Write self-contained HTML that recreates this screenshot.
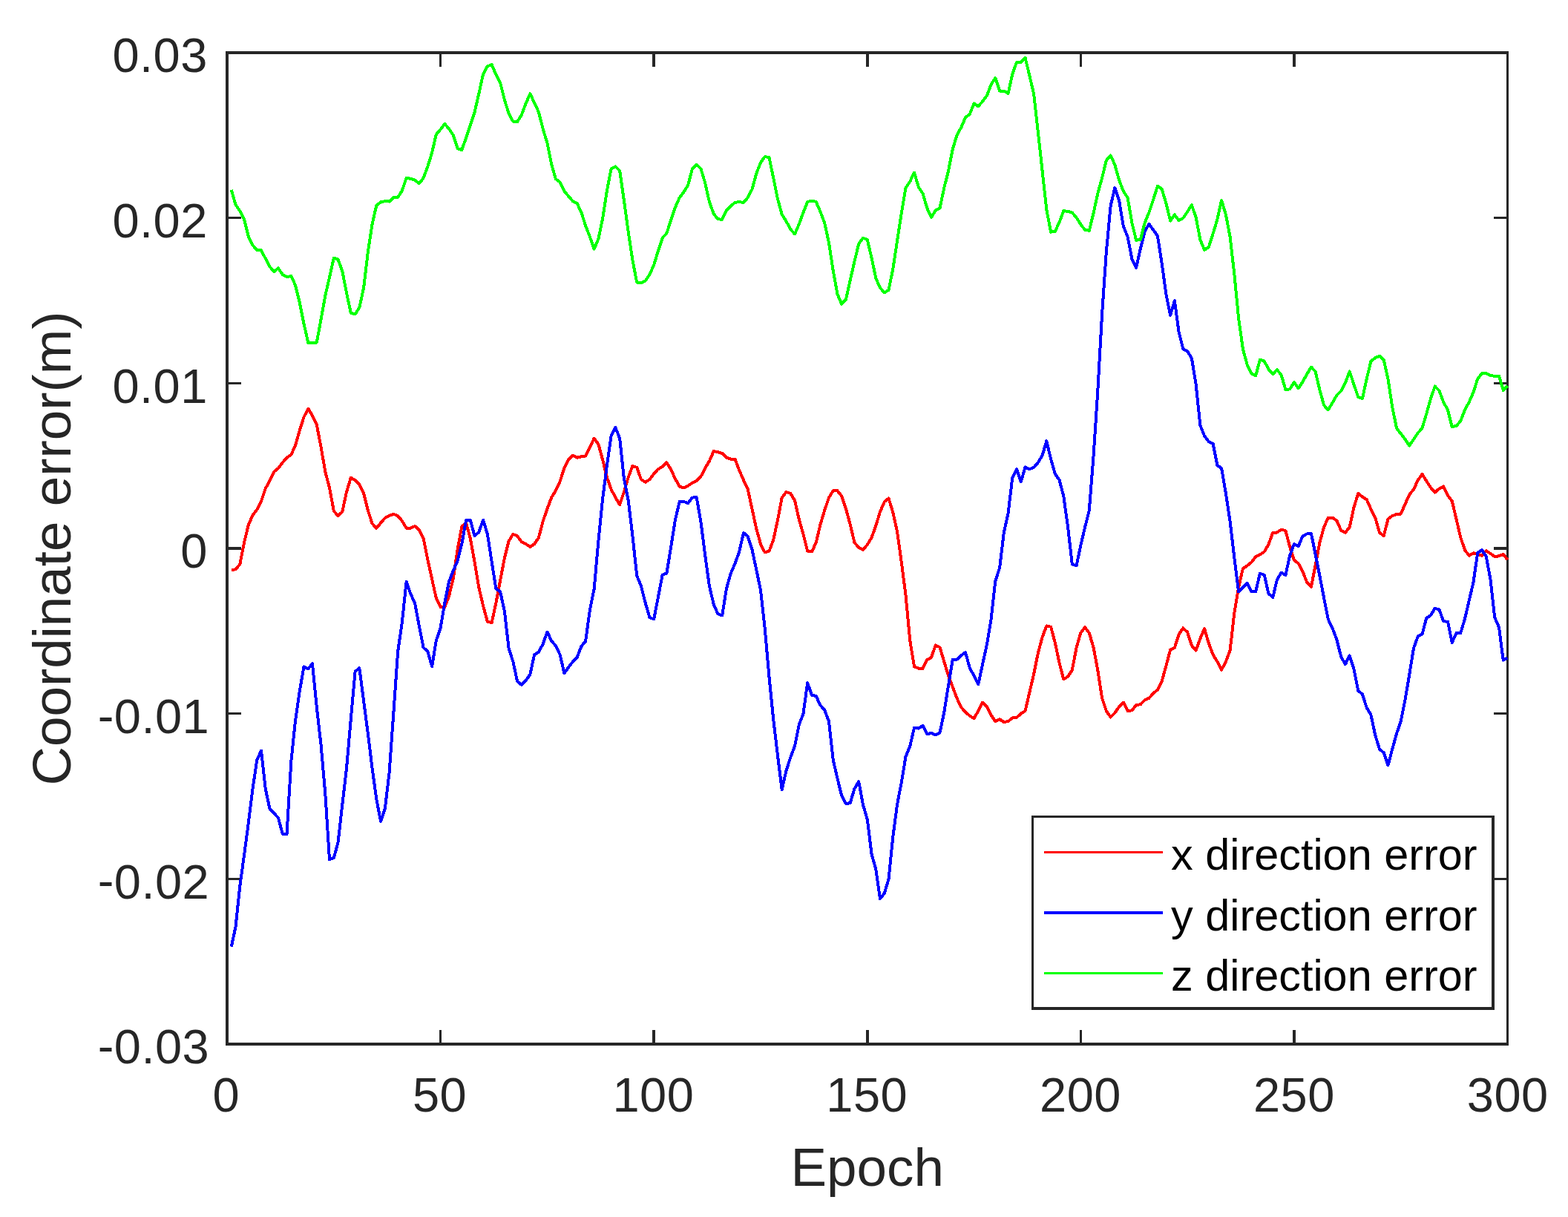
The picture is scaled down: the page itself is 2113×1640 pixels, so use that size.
<!DOCTYPE html>
<html><head><meta charset="utf-8"><title>Coordinate error</title>
<style>
html,body{margin:0;padding:0;background:#fff;}
body{width:2113px;height:1640px;overflow:hidden;}
svg{display:block;}
text{font-family:"Liberation Sans",sans-serif;}
.tk{font-size:65px;letter-spacing:0.45px;fill:#262626;}
.lb{font-size:72.8px;fill:#262626;}
.lg{font-size:59.4px;fill:#000;}
</style></head><body>
<svg width="2113" height="1640" viewBox="0 0 2113 1640">
<rect x="0" y="0" width="2113" height="1640" fill="#ffffff"/>
<g stroke="#262626" stroke-width="3.5" fill="none" shape-rendering="crispEdges" stroke-linecap="butt">
<rect x="306.0" y="71.0" width="1725.5" height="1336.0"/>
<line x1="593.58" y1="1407.0" x2="593.58" y2="1388.0"/><line x1="593.58" y1="71.0" x2="593.58" y2="90.0"/>
<line x1="306.0" y1="293.67" x2="325.0" y2="293.67"/><line x1="2031.5" y1="293.67" x2="2012.5" y2="293.67"/>
<line x1="881.17" y1="1407.0" x2="881.17" y2="1388.0"/><line x1="881.17" y1="71.0" x2="881.17" y2="90.0"/>
<line x1="306.0" y1="516.33" x2="325.0" y2="516.33"/><line x1="2031.5" y1="516.33" x2="2012.5" y2="516.33"/>
<line x1="1168.75" y1="1407.0" x2="1168.75" y2="1388.0"/><line x1="1168.75" y1="71.0" x2="1168.75" y2="90.0"/>
<line x1="306.0" y1="739.00" x2="325.0" y2="739.00"/><line x1="2031.5" y1="739.00" x2="2012.5" y2="739.00"/>
<line x1="1456.33" y1="1407.0" x2="1456.33" y2="1388.0"/><line x1="1456.33" y1="71.0" x2="1456.33" y2="90.0"/>
<line x1="306.0" y1="961.67" x2="325.0" y2="961.67"/><line x1="2031.5" y1="961.67" x2="2012.5" y2="961.67"/>
<line x1="1743.92" y1="1407.0" x2="1743.92" y2="1388.0"/><line x1="1743.92" y1="71.0" x2="1743.92" y2="90.0"/>
<line x1="306.0" y1="1184.33" x2="325.0" y2="1184.33"/><line x1="2031.5" y1="1184.33" x2="2012.5" y2="1184.33"/>
</g>
<g fill="none" stroke-width="4.0" stroke-linejoin="round" stroke-linecap="butt" shape-rendering="crispEdges">
<polyline stroke="#ff0000" points="311.8,768.5 317.5,767.2 323.3,760.5 329.0,731.2 334.8,707.5 340.5,694.3 346.3,686.7 352.0,675.4 357.8,658.3 363.5,647.9 369.3,635.6 375.0,630.9 380.8,623.3 386.5,616.7 392.3,612.9 398.0,600.3 403.8,580.0 409.5,562.0 415.3,550.6 421.0,560.1 426.8,572.4 432.5,602.2 438.3,635.6 444.0,657.4 449.8,688.6 455.5,695.2 461.3,689.6 467.0,663.0 472.8,643.7 478.6,647.0 484.3,652.6 490.1,664.9 495.8,687.7 501.6,705.6 507.3,711.9 513.1,704.7 518.8,698.1 524.6,694.9 530.3,692.8 536.1,695.2 541.8,701.9 547.6,711.7 553.3,711.7 559.1,709.0 564.8,714.2 570.6,725.5 576.3,753.9 582.1,780.4 587.8,806.0 593.6,817.9 599.3,818.3 605.1,803.1 610.8,779.5 616.6,740.7 622.3,709.4 628.1,704.7 633.8,725.5 639.6,757.7 645.3,791.8 651.1,816.4 656.9,837.8 662.6,839.1 668.4,812.6 674.1,782.3 679.9,752.0 685.6,729.3 691.4,719.8 697.1,722.2 702.9,730.3 708.6,733.1 714.4,736.9 720.1,733.1 725.9,724.6 731.6,702.8 737.4,685.8 743.1,670.6 748.9,661.2 754.6,648.8 760.4,630.9 766.1,619.5 771.9,613.8 777.6,616.7 783.4,615.3 789.1,614.4 794.9,602.5 800.6,590.7 806.4,598.7 812.1,619.5 817.9,643.2 823.6,659.3 829.4,670.6 835.2,680.1 840.9,663.0 846.7,643.2 852.4,628.0 858.2,629.9 863.9,646.0 869.7,649.8 875.4,646.0 881.2,638.4 886.9,632.2 892.7,629.0 898.4,623.3 904.2,632.8 909.9,645.1 915.7,655.5 921.4,657.4 927.2,654.5 932.9,650.7 938.7,647.9 944.4,642.2 950.2,630.9 955.9,621.4 961.7,608.1 967.4,609.1 973.2,611.0 978.9,616.7 984.7,618.6 990.4,618.6 996.2,633.7 1002.0,647.0 1007.7,659.3 1013.5,685.8 1019.2,712.3 1025.0,733.1 1030.7,744.4 1036.5,742.6 1042.2,727.4 1048.0,700.9 1053.7,670.6 1059.5,663.0 1065.2,664.9 1071.0,674.4 1076.7,699.5 1082.5,719.8 1088.2,742.6 1094.0,743.5 1099.7,731.2 1105.5,706.6 1111.2,687.7 1117.0,670.6 1122.7,661.2 1128.5,661.2 1134.2,668.7 1140.0,685.8 1145.7,706.6 1151.5,731.2 1157.2,737.8 1163.0,740.7 1168.8,734.0 1174.5,724.6 1180.3,708.5 1186.0,689.6 1191.8,676.3 1197.5,671.6 1203.3,690.5 1209.0,716.1 1214.8,757.7 1220.5,802.0 1226.3,863.3 1232.0,898.3 1237.8,900.6 1243.5,900.8 1249.3,889.2 1255.0,886.0 1260.8,869.5 1266.5,872.2 1272.3,891.7 1278.0,910.6 1283.8,925.8 1289.5,940.9 1295.3,953.2 1301.0,959.8 1306.8,964.6 1312.5,968.4 1318.3,957.9 1324.0,946.6 1329.8,952.3 1335.5,963.6 1341.3,972.1 1347.1,969.3 1352.8,973.1 1358.6,972.1 1364.3,967.4 1370.1,966.8 1375.8,961.7 1381.6,957.9 1387.3,933.3 1393.1,908.7 1398.8,880.3 1404.6,858.6 1410.3,843.4 1416.1,844.7 1421.8,866.1 1427.6,893.6 1433.3,915.4 1439.1,911.6 1444.8,903.0 1450.6,872.8 1456.3,852.9 1462.1,845.3 1467.8,852.9 1473.6,872.8 1479.3,903.0 1485.1,940.9 1490.8,957.9 1496.6,966.5 1502.3,960.8 1508.1,952.3 1513.9,946.6 1519.6,957.9 1525.4,957.4 1531.1,949.8 1536.9,949.4 1542.6,943.2 1548.4,940.9 1554.1,934.3 1559.9,929.6 1565.6,918.2 1571.4,897.4 1577.1,875.6 1582.9,872.8 1588.6,854.8 1594.4,846.3 1600.1,851.9 1605.9,869.9 1611.6,876.5 1617.4,860.5 1623.1,847.2 1628.9,867.1 1634.6,882.2 1640.4,891.7 1646.1,902.7 1651.9,891.7 1657.6,876.5 1663.4,825.6 1669.1,791.6 1674.9,766.2 1680.6,762.4 1686.4,757.7 1692.2,750.1 1697.9,747.3 1703.7,743.5 1709.4,733.8 1715.2,717.9 1720.9,717.5 1726.7,713.6 1732.4,715.2 1738.2,737.1 1743.9,754.8 1749.7,759.4 1755.4,769.8 1761.2,784.9 1766.9,790.8 1772.7,761.7 1778.4,731.0 1784.2,710.1 1789.9,697.6 1795.7,697.6 1801.4,701.6 1807.2,714.9 1812.9,717.7 1818.7,710.4 1824.4,684.1 1830.2,664.9 1835.9,669.6 1841.7,673.2 1847.4,686.0 1853.2,697.6 1859.0,717.5 1864.7,722.2 1870.5,699.5 1876.2,695.2 1882.0,692.9 1887.7,692.5 1893.5,679.4 1899.2,666.6 1905.0,659.5 1910.7,647.2 1916.5,638.9 1922.2,648.1 1928.0,657.1 1933.7,663.5 1939.5,658.5 1945.2,655.5 1951.0,667.5 1956.7,675.1 1962.5,699.5 1968.2,724.1 1974.0,741.2 1979.7,748.7 1985.5,745.3 1991.2,746.5 1997.0,748.7 2002.7,742.1 2008.5,745.9 2014.2,750.2 2020.0,749.3 2025.7,746.8 2031.5,754.4"/>
<polyline stroke="#0000ff" points="311.8,1275.6 317.5,1249.1 323.3,1194.2 329.0,1152.5 334.8,1109.0 340.5,1063.3 346.3,1024.0 352.0,1011.7 357.8,1063.3 363.5,1090.0 369.3,1095.7 375.0,1102.3 380.8,1123.7 386.5,1124.1 392.3,1026.4 398.0,971.2 403.8,931.4 409.5,898.3 415.3,901.2 421.0,894.5 426.8,953.2 432.5,1003.2 438.3,1069.4 444.0,1158.2 449.8,1156.3 455.5,1135.5 461.3,1084.4 467.0,1035.4 472.8,969.3 478.6,904.9 484.3,900.2 490.1,944.7 495.8,988.2 501.6,1035.4 507.3,1077.0 513.1,1107.1 518.8,1090.0 524.6,1041.0 530.3,961.7 536.1,878.4 541.8,838.9 547.6,784.0 553.3,800.1 559.1,812.9 564.8,843.2 570.6,872.8 576.3,877.5 582.1,898.3 587.8,863.3 593.6,846.0 599.3,812.4 605.1,783.5 610.8,769.1 616.6,755.8 622.3,733.1 628.1,700.9 633.8,700.9 639.6,722.3 645.3,717.0 651.1,700.9 656.9,719.8 662.6,756.8 668.4,793.5 674.1,797.2 679.9,824.0 685.6,873.7 691.4,891.7 697.1,918.2 702.9,922.9 708.6,917.2 714.4,908.7 720.1,882.2 725.9,878.8 731.6,868.0 737.4,851.6 743.1,863.3 748.9,870.5 754.6,882.2 760.4,907.2 766.1,899.3 771.9,891.7 777.6,886.0 783.4,870.9 789.1,864.2 794.9,821.9 800.6,793.9 806.4,729.3 812.1,672.5 817.9,627.1 823.6,587.3 829.4,576.0 835.2,591.1 840.9,645.1 846.7,674.4 852.4,721.7 858.2,775.7 863.9,789.7 869.7,812.4 875.4,832.3 881.2,834.2 886.9,804.8 892.7,774.7 898.4,772.5 904.2,736.9 909.9,700.9 915.7,675.9 921.4,675.9 927.2,678.2 932.9,670.6 938.7,670.2 944.4,702.8 950.2,748.2 955.9,789.7 961.7,814.3 967.4,827.3 973.2,829.4 978.9,793.5 984.7,772.8 990.4,759.6 996.2,743.5 1002.0,717.9 1007.7,722.7 1013.5,740.7 1019.2,767.2 1025.0,795.4 1030.7,846.5 1036.5,912.5 1042.2,969.3 1048.0,1018.5 1053.7,1064.0 1059.5,1038.4 1065.2,1020.9 1071.0,1005.3 1076.7,976.9 1082.5,961.7 1088.2,920.1 1094.0,936.7 1099.7,938.1 1105.5,950.4 1111.2,957.0 1117.0,972.1 1122.7,1024.0 1128.5,1049.1 1134.2,1072.3 1140.0,1083.2 1145.7,1082.0 1151.5,1062.8 1157.2,1053.1 1163.0,1084.6 1168.8,1104.2 1174.5,1150.6 1180.3,1171.4 1186.0,1211.2 1191.8,1203.6 1197.5,1184.7 1203.3,1127.9 1209.0,1084.4 1214.8,1054.3 1220.5,1019.7 1226.3,1005.3 1232.0,980.7 1237.8,981.6 1243.5,977.8 1249.3,989.2 1255.0,987.9 1260.8,990.5 1266.5,987.3 1272.3,959.8 1278.0,923.9 1283.8,888.8 1289.5,888.8 1295.3,883.2 1301.0,879.0 1306.8,900.2 1312.5,910.6 1318.3,922.0 1324.0,895.5 1329.8,869.0 1335.5,835.1 1341.3,783.0 1347.1,765.3 1352.8,717.9 1358.6,691.4 1364.3,643.7 1370.1,632.4 1375.8,649.4 1381.6,629.4 1387.3,632.2 1393.1,629.9 1398.8,623.3 1404.6,613.8 1410.3,594.2 1416.1,618.6 1421.8,638.4 1427.6,647.0 1433.3,668.7 1439.1,710.4 1444.8,760.5 1450.6,762.4 1456.3,735.0 1462.1,710.4 1467.8,687.7 1473.6,614.0 1479.3,527.2 1485.1,423.0 1490.8,340.0 1496.6,277.7 1502.3,253.1 1508.1,270.1 1513.9,305.1 1519.6,319.1 1525.4,349.0 1531.1,360.8 1536.9,334.8 1542.6,312.0 1548.4,301.9 1554.1,309.7 1559.9,317.9 1565.6,354.2 1571.4,396.5 1577.1,424.9 1582.9,405.1 1588.6,447.7 1594.4,470.4 1600.1,473.2 1605.9,482.7 1611.6,517.7 1617.4,573.3 1623.1,587.5 1628.9,595.1 1634.6,597.9 1640.4,627.1 1646.1,630.9 1651.9,664.9 1657.6,702.8 1663.4,752.0 1669.1,797.5 1674.9,791.8 1680.6,786.1 1686.4,797.1 1692.2,797.1 1697.9,772.8 1703.7,774.7 1709.4,799.6 1715.2,805.3 1720.9,781.1 1726.7,771.7 1732.4,775.0 1738.2,748.5 1743.9,733.1 1749.7,736.2 1755.4,722.5 1761.2,719.4 1766.9,718.7 1772.7,747.5 1778.4,775.9 1784.2,806.3 1789.9,834.7 1795.7,846.7 1801.4,862.2 1807.2,884.9 1812.9,895.3 1818.7,883.5 1824.4,901.6 1830.2,930.7 1835.9,935.5 1841.7,953.7 1847.4,963.2 1853.2,990.6 1859.0,1009.6 1864.7,1014.3 1870.5,1031.3 1876.2,1009.6 1882.0,988.7 1887.7,971.7 1893.5,943.3 1899.2,909.4 1905.0,873.5 1910.7,857.6 1916.5,854.7 1922.2,833.0 1928.0,829.2 1933.7,819.7 1939.5,821.6 1945.2,837.3 1951.0,837.7 1956.7,865.9 1962.5,853.2 1968.2,853.2 1974.0,833.9 1979.7,809.3 1985.5,784.7 1991.2,744.9 1997.0,741.2 2002.7,749.7 2008.5,780.9 2014.2,832.0 2020.0,845.3 2025.7,889.6 2031.5,886.7"/>
<polyline stroke="#00ff00" points="311.8,255.9 317.5,275.8 323.3,284.3 329.0,295.7 334.8,318.7 340.5,330.5 346.3,336.9 352.0,337.3 357.8,348.5 363.5,359.4 369.3,366.0 375.0,361.5 380.8,370.0 386.5,373.3 392.3,371.9 398.0,384.2 403.8,407.9 409.5,436.3 415.3,461.9 421.0,462.2 426.8,461.5 432.5,430.6 438.3,398.4 444.0,373.8 449.8,347.7 455.5,349.6 461.3,365.3 467.0,394.7 472.8,421.7 478.6,423.4 484.3,414.5 490.1,388.0 495.8,339.8 501.6,301.9 507.3,276.8 513.1,272.4 518.8,271.1 524.6,271.6 530.3,266.0 536.1,266.0 541.8,256.9 547.6,239.8 553.3,240.8 559.1,242.7 564.8,247.4 570.6,239.8 576.3,224.7 582.1,205.8 587.8,181.2 593.6,174.5 599.3,167.0 605.1,173.6 610.8,182.1 616.6,200.1 622.3,202.0 628.1,185.9 633.8,168.8 639.6,150.9 645.3,126.3 651.1,99.8 656.9,89.3 662.6,87.1 668.4,100.7 674.1,111.1 679.9,134.8 685.6,152.8 691.4,163.7 697.1,164.3 702.9,154.7 708.6,139.5 714.4,126.3 720.1,138.6 725.9,150.9 731.6,173.6 737.4,192.5 743.1,220.9 748.9,241.2 754.6,245.5 760.4,257.8 766.1,264.4 771.9,271.1 777.6,273.9 783.4,286.2 789.1,304.2 794.9,319.1 800.6,335.7 806.4,322.0 812.1,294.7 817.9,256.9 823.6,227.5 829.4,224.3 835.2,230.4 840.9,270.1 846.7,312.5 852.4,350.4 858.2,380.5 863.9,381.4 869.7,378.6 875.4,370.0 881.2,357.0 886.9,338.1 892.7,320.6 898.4,314.4 904.2,296.6 909.9,279.6 915.7,266.3 921.4,258.8 927.2,249.3 932.9,227.5 938.7,221.9 944.4,227.2 950.2,246.5 955.9,272.0 961.7,288.1 967.4,295.3 973.2,295.7 978.9,283.4 984.7,277.7 990.4,273.0 996.2,272.0 1002.0,273.0 1007.7,266.3 1013.5,255.0 1019.2,234.2 1025.0,219.0 1030.7,211.1 1036.5,212.0 1042.2,239.8 1048.0,268.2 1053.7,289.1 1059.5,298.1 1065.2,308.9 1071.0,315.4 1076.7,302.3 1082.5,286.2 1088.2,272.0 1094.0,270.5 1099.7,272.0 1105.5,285.3 1111.2,300.4 1117.0,327.2 1122.7,364.6 1128.5,396.5 1134.2,409.8 1140.0,403.2 1145.7,377.6 1151.5,352.3 1157.2,328.6 1163.0,320.8 1168.8,322.9 1174.5,347.5 1180.3,374.8 1186.0,388.0 1191.8,394.3 1197.5,390.9 1203.3,362.7 1209.0,324.8 1214.8,287.2 1220.5,253.1 1226.3,244.6 1232.0,232.6 1237.8,252.1 1243.5,260.7 1249.3,280.5 1255.0,292.8 1260.8,283.4 1266.5,280.5 1272.3,253.1 1278.0,230.4 1283.8,201.0 1289.5,182.1 1295.3,171.7 1301.0,158.4 1306.8,153.7 1312.5,139.5 1318.3,143.3 1324.0,136.7 1329.8,129.1 1335.5,114.0 1341.3,105.1 1347.1,122.5 1352.8,122.5 1358.6,125.9 1364.3,99.8 1370.1,83.7 1375.8,83.7 1381.6,78.0 1387.3,101.6 1393.1,126.3 1398.8,177.4 1404.6,230.4 1410.3,282.4 1416.1,312.7 1421.8,311.8 1427.6,299.5 1433.3,284.3 1439.1,284.8 1444.8,286.4 1450.6,293.3 1456.3,302.3 1462.1,309.9 1467.8,310.8 1473.6,287.2 1479.3,260.7 1485.1,239.8 1490.8,216.2 1496.6,209.6 1502.3,221.9 1508.1,242.7 1513.9,257.8 1519.6,266.3 1525.4,300.4 1531.1,323.7 1536.9,322.8 1542.6,300.4 1548.4,286.2 1554.1,269.2 1559.9,250.8 1565.6,254.6 1571.4,273.9 1577.1,297.6 1582.9,289.4 1588.6,297.2 1594.4,293.8 1600.1,285.3 1605.9,276.4 1611.6,292.8 1617.4,323.1 1623.1,336.8 1628.9,332.9 1634.6,314.9 1640.4,295.7 1646.1,270.1 1651.9,289.1 1657.6,319.1 1663.4,370.0 1669.1,428.7 1674.9,470.4 1680.6,491.2 1686.4,503.5 1692.2,506.3 1697.9,484.6 1703.7,486.5 1709.4,497.6 1715.2,504.2 1720.9,498.1 1726.7,505.6 1732.4,525.1 1738.2,524.3 1743.9,515.1 1749.7,523.4 1755.4,514.6 1761.2,504.2 1766.9,494.6 1772.7,500.9 1778.4,525.5 1784.2,546.3 1789.9,552.3 1795.7,542.6 1801.4,532.6 1807.2,526.9 1812.9,516.1 1818.7,500.4 1824.4,517.9 1830.2,535.0 1835.9,537.2 1841.7,510.6 1847.4,487.0 1853.2,482.2 1859.0,479.8 1864.7,485.1 1870.5,510.6 1876.2,548.5 1882.0,576.9 1887.7,584.4 1893.5,592.0 1899.2,600.5 1905.0,592.0 1910.7,583.5 1916.5,576.9 1922.2,557.9 1928.0,537.1 1933.7,520.5 1939.5,526.7 1945.2,541.9 1951.0,552.3 1956.7,575.0 1962.5,574.0 1968.2,567.4 1974.0,552.3 1979.7,541.9 1985.5,528.6 1991.2,510.6 1997.0,503.0 2002.7,503.0 2008.5,505.9 2014.2,506.8 2020.0,506.5 2025.7,525.8 2031.5,519.7"/>
</g>
<text class="tk" x="304.7" y="1498.3" text-anchor="middle">0</text>
<text class="tk" x="592.5" y="1498.3" text-anchor="middle">50</text>
<text class="tk" x="880.4" y="1498.3" text-anchor="middle">100</text>
<text class="tk" x="1168.2" y="1498.3" text-anchor="middle">150</text>
<text class="tk" x="1456.0" y="1498.3" text-anchor="middle">200</text>
<text class="tk" x="1743.9" y="1498.3" text-anchor="middle">250</text>
<text class="tk" x="2031.7" y="1498.3" text-anchor="middle">300</text>
<text class="tk" x="279.8" y="97.4" text-anchor="end">0.03</text>
<text class="tk" x="279.8" y="320.1" text-anchor="end">0.02</text>
<text class="tk" x="279.8" y="542.7" text-anchor="end">0.01</text>
<text class="tk" x="279.8" y="765.4" text-anchor="end">0</text>
<text class="tk" x="282.1" y="988.1" dy="-1.6 1.6" text-anchor="end">-0.01</text>
<text class="tk" x="282.1" y="1210.7" dy="-1.6 1.6" text-anchor="end">-0.02</text>
<text class="tk" x="282.1" y="1433.4" dy="-1.6 1.6" text-anchor="end">-0.03</text>
<text class="lb" x="1168.7" y="1598" text-anchor="middle">Epoch</text>
<text class="lb" transform="translate(95,739) rotate(-90)" text-anchor="middle">Coordinate error(m)</text>
<rect x="1391.5" y="1100.5" width="620.5" height="258.5" fill="#fff" stroke="#262626" stroke-width="3.5" shape-rendering="crispEdges"/>
<line x1="1407" y1="1148.5" x2="1567" y2="1148.5" stroke="#ff0000" stroke-width="3.5" shape-rendering="crispEdges"/>
<text class="lg" x="1578" y="1172.4">x direction error</text>
<line x1="1407" y1="1230.0" x2="1567" y2="1230.0" stroke="#0000ff" stroke-width="3.5" shape-rendering="crispEdges"/>
<text class="lg" x="1578" y="1253.9">y direction error</text>
<line x1="1407" y1="1311.5" x2="1567" y2="1311.5" stroke="#00ff00" stroke-width="3.5" shape-rendering="crispEdges"/>
<text class="lg" x="1578" y="1335.4">z direction error</text>
</svg>
</body></html>
